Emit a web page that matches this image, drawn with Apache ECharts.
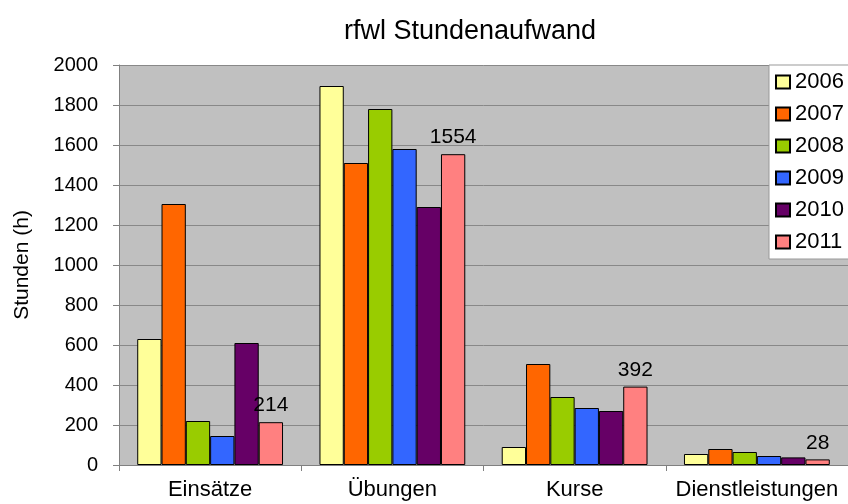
<!DOCTYPE html>
<html><head><meta charset="utf-8">
<script src="https://cdn.jsdelivr.net/npm/echarts@6/dist/echarts.min.js"></script>
<style>html,body{margin:0;padding:0;background:#fff}#c{width:848px;height:504px}</style>
</head><body><div id="c"></div>
<script>
const categories = ['Einsätze', 'Übungen', 'Kurse', 'Dienstleistungen'];
const years = ['2006', '2007', '2008', '2009', '2010', '2011'];
const v2006 = [630, 1895, 90, 55];
const v2007 = [1305, 1510, 505, 80];
const v2008 = [220, 1780, 340, 65];
const v2009 = [145, 1580, 285, 45];
const v2010 = [610, 1290, 270, 38];
const v2011 = [214, 1554, 392, 28];
const yTicks = [0, 200, 400, 600, 800, 1000, 1200, 1400, 1600, 1800, 2000];
const colors = ['#FFFF99', '#FF6600', '#99CC00', '#3366FF', '#660066', '#FF8080'];
const values = [v2006, v2007, v2008, v2009, v2010, v2011];
const font = 'Liberation Sans, Arial, sans-serif';

const series = years.map((y, i) => ({
  name: y, type: 'bar', data: values[i],
  barGap: '0%', barCategoryGap: '20%',
  itemStyle: { color: colors[i], borderColor: '#000', borderWidth: 1 },
  label: i === 5 ? { show: true, position: 'top', distance: 6, color: '#000', fontSize: 21, fontFamily: font } : { show: false },
  emphasis: { disabled: true }
}));

const chart = echarts.init(document.getElementById('c'));
chart.setOption({
  animation: false,
  title: { text: 'rfwl Stundenaufwand', left: 465, top: 13, textAlign: 'center',
    textStyle: { fontSize: 27, fontWeight: 'normal', color: '#000', fontFamily: font } },
  grid: { left: 119, top: 65, width: 732, height: 400, backgroundColor: '#C0C0C0', show: true, borderWidth: 0 },
  legend: {
    orient: 'vertical', left: 769, top: 65, width: 90,
    backgroundColor: '#fff', borderColor: '#999', borderWidth: 1,
    padding: [6, 20, 6, 6], itemWidth: 14, itemHeight: 13, itemGap: 10,
    textStyle: { fontSize: 22, lineHeight: 22, color: '#000', fontFamily: font },
    data: years.map(y => ({ name: y, icon: 'rect' }))
  },
  xAxis: {
    type: 'category', data: categories,
    axisLine: { lineStyle: { color: '#808080', width: 1 } },
    axisTick: { show: true, alignWithLabel: false, interval: 0, length: 6, lineStyle: { color: '#808080' } },
    axisLabel: { interval: 0, hideOverlap: false, fontSize: 22, color: '#000', fontFamily: font, margin: 14 }
  },
  yAxis: {
    type: 'value', min: yTicks[0], max: yTicks[yTicks.length - 1], interval: 200,
    name: 'Stunden (h)', nameLocation: 'middle', nameGap: 86, nameRotate: 90,
    nameTextStyle: { fontSize: 21, color: '#000', fontFamily: font },
    axisLine: { show: true, lineStyle: { color: '#808080' } },
    axisTick: { show: true, length: 6, lineStyle: { color: '#808080' } },
    axisLabel: { fontSize: 20, color: '#000', fontFamily: font, margin: 21, formatter: v => String(v) },
    splitLine: { lineStyle: { color: '#888', width: 1 } }
  },
  series: series
});
</script></body></html>
